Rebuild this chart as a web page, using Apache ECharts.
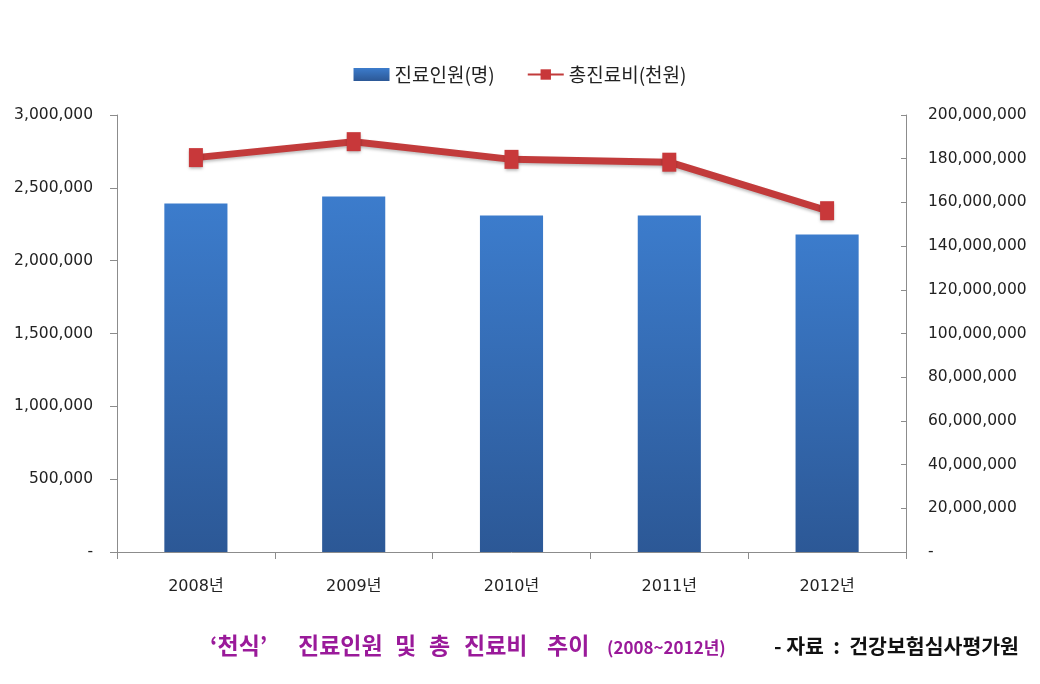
<!DOCTYPE html>
<html>
<head>
<meta charset="utf-8">
<script src="https://cdn.jsdelivr.net/npm/echarts@6/dist/echarts.min.js"></script>
<style>
html,body{margin:0;padding:0;background:#fff;}
#c{width:1040px;height:684px;}
</style>
</head>
<body>
<div id="c"></div>
<script>
const categories = ['2008년', '2009년', '2010년', '2011년', '2012년'];
const patients = [2392000, 2440000, 2310000, 2310000, 2180000];
const totalCost = [180500000, 187800000, 179700000, 178400000, 156200000];
const leftTicks = { min: 0, max: 3000000, interval: 500000 };
const rightTicks = { min: 0, max: 200000000, interval: 20000000 };
const seriesNames = ['진료인원(명)', '총진료비(천원)'];
const titleWords = ['‘천식’', '진료인원', '및', '총', '진료비', '추이'];
const titleYears = '(2008~2012년)';
const sourceText = '- 자료  :  건강보험심사평가원';

const FONT = '"Noto Sans CJK KR", "Noto Sans", sans-serif';
const NUMFONT = '"DejaVu Sans", "Noto Sans CJK KR", sans-serif';
function fmt(v) { return v === 0 ? '-' : v.toLocaleString('en-US'); }

const wordLeft = [210, 298, 395, 429, 464, 547];
const graphics = titleWords.map((w, i) => ({
  type: 'text', left: wordLeft[i], top: 634,
  style: { text: w, font: 'bold 23px ' + FONT, fill: '#9a1a9a' }
}));
graphics.push({
  type: 'text', left: 607, top: 639,
  style: { text: titleYears, font: 'bold 17px ' + FONT, fill: '#9a1a9a' }
});
graphics.push({
  type: 'text', left: 774, top: 636,
  style: { text: sourceText, font: 'bold 20.5px ' + FONT, fill: '#111' }
});

const chart = echarts.init(document.getElementById('c'));
chart.setOption({
  backgroundColor: '#ffffff',
  animation: false,
  textStyle: { fontFamily: FONT },
  graphic: graphics,
  legend: {
    top: 60, left: 'center',
    itemGap: 32, itemWidth: 36, itemHeight: 13,
    textStyle: { fontSize: 19, color: '#222', fontFamily: FONT },
    data: [
      { name: seriesNames[0], icon: 'rect' },
      { name: seriesNames[1] }
    ]
  },
  grid: { left: 117, right: 134, top: 115, bottom: 132 },
  xAxis: {
    type: 'category', data: categories,
    axisLine: { lineStyle: { color: '#8c8c8c', width: 1 } },
    axisTick: { show: true, length: 7, lineStyle: { color: '#8c8c8c' } },
    axisLabel: { margin: 27, fontSize: 16, color: '#222', fontFamily: NUMFONT }
  },
  yAxis: [{
    type: 'value', position: 'left',
    min: leftTicks.min, max: leftTicks.max, interval: leftTicks.interval,
    axisLine: { show: true, lineStyle: { color: '#8c8c8c' } },
    axisTick: { show: true, length: 7, lineStyle: { color: '#8c8c8c' } },
    splitLine: { show: false },
    axisLabel: { margin: 24, fontSize: 15.5, color: '#222', formatter: fmt, fontFamily: NUMFONT }
  }, {
    type: 'value', position: 'right',
    min: rightTicks.min, max: rightTicks.max, interval: rightTicks.interval,
    axisLine: { show: true, lineStyle: { color: '#8c8c8c' } },
    axisTick: { show: true, inside: true, length: 5, lineStyle: { color: '#8c8c8c' } },
    splitLine: { show: false },
    axisLabel: { margin: 22, fontSize: 15.5, color: '#222', formatter: fmt, fontFamily: NUMFONT }
  }],
  series: [{
    name: seriesNames[0], type: 'bar', yAxisIndex: 0,
    data: patients, barWidth: '40%',
    itemStyle: {
      color: new echarts.graphic.LinearGradient(0, 0, 0, 1, [
        { offset: 0, color: '#3c7ccc' },
        { offset: 1, color: '#2c5896' }
      ])
    }
  }, {
    name: seriesNames[1], type: 'line', yAxisIndex: 1,
    data: totalCost,
    symbol: 'rect', symbolSize: [14, 19],
    lineStyle: { color: '#c23b3b', width: 7, shadowColor: 'rgba(0,0,0,0.25)', shadowBlur: 3, shadowOffsetY: 2 },
    itemStyle: { color: '#c8383a', shadowColor: 'rgba(0,0,0,0.3)', shadowBlur: 3, shadowOffsetY: 2 }
  }]
});
</script>
</body>
</html>
